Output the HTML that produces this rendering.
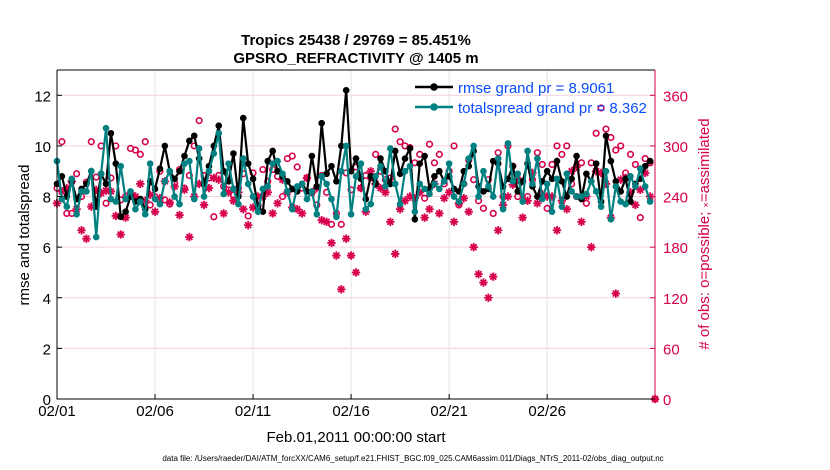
<!DOCTYPE html>
<html><head><meta charset="utf-8"><style>
body{margin:0;background:#fff;}
svg{display:block;font-family:"Liberation Sans",Arial,sans-serif;}
</style></head><body>
<svg id="chart" width="830" height="470" viewBox="0 0 830 470" xmlns="http://www.w3.org/2000/svg">
<text x="356" y="45" text-anchor="middle" font-size="15" font-weight="bold">Tropics 25438 / 29769 = 85.451%</text>
<text x="356" y="63" text-anchor="middle" font-size="15" font-weight="bold">GPSRO_REFRACTIVITY @ 1405 m</text>
<g id="grid"></g><g id="marks"></g><g id="axes"></g>
<text transform="translate(29,235) rotate(-90)" text-anchor="middle" font-size="15">rmse and totalspread</text>
<text transform="translate(709,234) rotate(-90)" text-anchor="middle" font-size="15" fill="#d6004d"># of obs: o=possible; <tspan font-size="9">×</tspan>=assimilated</text>
<text x="356" y="442" text-anchor="middle" font-size="15">Feb.01,2011 00:00:00 start</text>
<text x="413" y="461" text-anchor="middle" font-size="8">data file: /Users/raeder/DAI/ATM_forcXX/CAM6_setup/f.e21.FHIST_BGC.f09_025.CAM6assim.011/Diags_NTrS_2011-02/obs_diag_output.nc</text>
<g>
<line x1="415" y1="87" x2="453" y2="87" stroke="#000" stroke-width="2.5"/><circle cx="434" cy="87" r="3.8" fill="#000"/>
<text x="458" y="93" font-size="15" fill="#0a4cff">rmse grand pr = 8.9061</text>
<line x1="415" y1="107" x2="453" y2="107" stroke="#008080" stroke-width="2.5"/><circle cx="434" cy="107" r="3.8" fill="#008080"/>
<text x="458" y="113" font-size="15" fill="#0a4cff">totalspread grand pr = 8.362</text>
</g>
</svg>
<script>
const rmse=[8.5,8.8,8.0,8.6,7.9,8.3,8.5,9.0,7.6,8.9,8.5,10.5,9.3,7.2,7.4,8.0,7.8,7.9,7.5,8.6,8.3,9.1,10.0,9.0,8.7,9.0,9.6,10.2,10.4,9.5,8.5,9.2,10.0,10.8,9.0,8.6,9.7,8.0,11.1,9.3,8.7,7.6,7.4,9.4,9.8,9.0,8.8,8.6,8.3,8.2,8.5,8.2,9.6,8.4,10.9,8.9,9.2,8.6,10.0,12.2,9.0,9.5,8.7,7.9,8.8,8.5,9.5,9.0,8.5,9.8,8.9,9.5,9.9,7.1,9.3,9.6,8.3,8.8,9.0,8.6,8.8,8.3,8.2,9.0,9.2,9.8,8.4,8.2,8.3,9.4,9.3,8.4,8.7,9.2,8.2,8.6,9.3,8.4,8.0,8.6,9.0,8.7,9.4,8.6,8.0,8.7,9.6,7.9,8.9,8.6,9.3,7.8,10.4,9.4,8.6,8.2,8.7,7.8,8.5,8.7,9.2,9.4];
const spread=[9.4,7.9,7.6,8.7,7.3,8.2,8.2,9.0,6.4,8.9,10.7,7.9,7.8,9.2,7.9,8.2,7.5,7.8,7.3,9.3,7.9,7.7,8.6,9.0,8.0,7.7,9.3,9.4,7.9,9.9,8.0,9.0,9.7,10.5,8.1,9.3,8.3,7.7,9.5,8.5,8.0,7.4,8.3,8.4,9.3,9.4,8.9,8.2,7.5,8.4,8.5,7.9,8.2,7.3,8.8,8.5,7.9,7.2,9.0,10.0,7.3,8.8,9.3,7.5,7.7,8.8,9.2,8.4,9.9,8.5,7.7,9.0,9.2,7.4,8.5,8.3,8.1,8.5,8.3,8.6,9.3,8.0,7.8,8.5,9.5,10.0,8.0,9.0,8.4,8.0,9.5,7.5,10.1,8.6,8.9,7.8,9.8,8.5,9.5,7.9,8.5,7.4,8.7,7.6,8.9,8.2,8.0,8.0,8.1,8.6,8.2,7.6,9.0,7.1,8.4,7.8,7.7,8.8,8.4,9.1,8.4,7.8];
const possible=[250,305,220,220,267,240,257,305,263,300,232,262,300,236,240,297,295,290,305,230,240,270,236,231,256,272,250,265,300,330,265,262,216,265,252,248,242,250,267,217,268,230,272,258,272,264,240,285,288,275,250,262,245,230,265,245,207,220,207,268,248,275,250,265,262,290,270,260,262,320,305,300,298,280,290,238,302,280,290,255,270,300,230,255,283,260,235,226,260,220,292,240,300,276,240,258,240,260,292,278,226,278,300,290,300,255,240,280,232,280,315,345,320,310,295,300,268,290,278,215,285,280];
const assimilated=[232,246,250,258,225,200,190,228,248,244,247,246,217,195,215,244,240,255,235,242,222,238,258,233,252,218,248,192,240,255,230,250,262,260,220,245,235,245,225,206,227,240,240,245,220,232,260,245,227,225,220,262,245,250,212,210,185,170,130,190,170,150,250,222,270,255,250,245,210,172,225,235,240,238,245,215,225,255,220,238,245,210,232,238,222,180,148,138,120,145,200,230,240,254,260,215,235,268,232,243,240,240,200,235,225,270,275,210,240,180,270,268,255,215,125,260,262,245,230,248,268,240];
const xTickLabels=["02/01","02/06","02/11","02/16","02/21","02/26"];
const xTickDays=[0,5,10,15,20,25];
const yTicksLeft=[0,2,4,6,8,10,12];
const yTicksRight=[0,60,120,180,240,300,360];

const NS="http://www.w3.org/2000/svg";
const L=57,R=655,T=70,B=399;
const X=d=>L+d/30.5*(R-L);
const YL=v=>B-v/13*(B-T);
const YR=v=>B-v/390*(B-T);
const dayOf=i=>i*0.25;
const RED="#d6004d";
function mk(tag,attrs,parent){const e=document.createElementNS(NS,tag);for(const k in attrs)e.setAttribute(k,attrs[k]);parent.appendChild(e);return e;}
const grid=document.getElementById('grid'),marks=document.getElementById('marks'),axes=document.getElementById('axes');

yTicksLeft.forEach(v=>{const l=mk('line',{x1:L,x2:R,y1:YL(v),y2:YL(v),stroke:'#f1d3dd','stroke-width':1},grid);


const t=mk('text',{x:L-6,y:YL(v)+6,'text-anchor':'end','font-size':15},axes);t.textContent=v;


mk('line',{x1:L,x2:L+5,y1:YL(v),y2:YL(v),stroke:'#000'},axes);});
xTickDays.forEach((d,i)=>{const l=mk('line',{x1:X(d),x2:X(d),y1:T,y2:B,stroke:'#e4e4e4','stroke-width':1},grid);


mk('line',{x1:X(d),x2:X(d),y1:B,y2:B-5,stroke:'#000'},axes);
const t=mk('text',{x:X(d),y:B+17,'text-anchor':'middle','font-size':15},axes);t.textContent=xTickLabels[i];

});
yTicksRight.forEach(v=>{mk('line',{x1:R,x2:R-5,y1:YR(v),y2:YR(v),stroke:RED},axes);
const t=mk('text',{x:R+8,y:YR(v)+6,'font-size':15,fill:RED},axes);t.textContent=v;

});
const ax=mk('path',{d:`M${L},${T}H${R}M${L},${T}V${B}H${R}`,stroke:'#000',fill:'none','stroke-width':1},axes);


const ar=mk('line',{x1:R,x2:R,y1:T,y2:B,stroke:RED,'stroke-width':1},axes);



function star(cx,cy,g){const r=4.2;[[0,1],[1,0],[0.7,0.7],[0.7,-0.7]].forEach(([a,b])=>mk('line',{x1:cx-a*r,y1:cy-b*r,x2:cx+a*r,y2:cy+b*r,stroke:RED,'stroke-width':1.8},g));}
assimilated.forEach((v,i)=>{const g=mk('g',{},marks);


star(X(dayOf(i)),YR(v),g);});
possible.forEach((v,i)=>{const c=mk('circle',{cx:X(dayOf(i)),cy:YR(v),r:2.8,fill:'none',stroke:RED,'stroke-width':1.6},marks);

});
function series(arr,color,name){const p=mk('polyline',{points:arr.map((v,i)=>X(dayOf(i))+','+YL(v)).join(' '),fill:'none',stroke:color,'stroke-width':2.2},marks);


arr.forEach((v,i)=>{const c=mk('circle',{cx:X(dayOf(i)),cy:YL(v),r:3.3,fill:color},marks);

});}
series(rmse,'#000','rmse');
series(spread,'#008080','totalspread');
const z=mk('g',{},marks);


star(R,B,z);mk('circle',{cx:R,cy:B,r:2.8,fill:'none',stroke:RED,'stroke-width':1.6},z);
</script>
</body></html>
